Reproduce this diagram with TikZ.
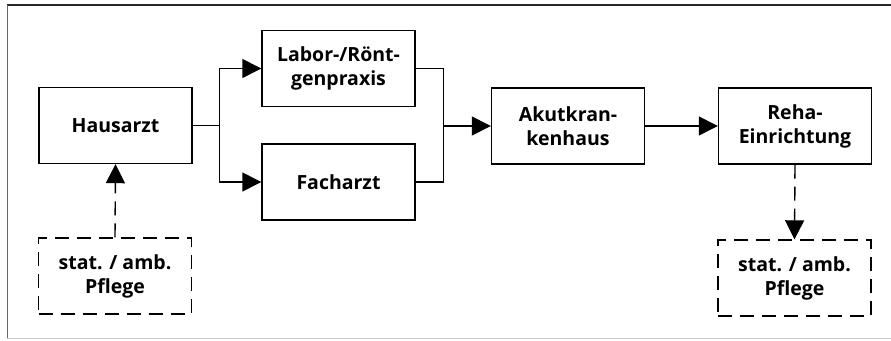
\documentclass[tikz,border=0pt]{standalone}
\usepackage{fontspec}
\setmainfont{Open Sans}
\usetikzlibrary{arrows.meta}
\begin{document}
\begin{tikzpicture}[x=1pt,y=-1pt,
  box/.style={draw=black,line width=1.4pt,minimum width=153pt,minimum height=76pt,
    align=center,inner sep=0pt,font=\fontsize{19.5}{24}\selectfont\bfseries},
  dbox/.style={box,dash pattern=on 14pt off 8pt},
  conn/.style={line width=1.4pt,-{Triangle[length=19pt,width=19pt]}},
  dconn/.style={conn,dash pattern=on 14pt off 8pt}]
\useasboundingbox (0,0) rectangle (891,340);
\draw[line width=1.2pt,black!85] (7,5) -- (891,5);
\draw[line width=1pt,black!60] (7,5) -- (7,338);
\draw[line width=1pt,black!20] (7,338) -- (891,338);

\node[box] (haus) at (115.5,125.5) {Hausarzt};
\node[box] (labor) at (338.5,68.5) {Labor-/Rönt-\\genpraxis};
\node[box] (fach) at (338.5,182) {Facharzt};
\node[box] (akut) at (568,126) {Akutkran-\\kenhaus};
\node[box] (reha) at (795,126) {Reha-\\Einrichtung};
\node[dbox] (pflA) at (115,276) {stat. / amb.\\Pflege};
\node[dbox] (pflB) at (794.5,278) {stat. / amb.\\Pflege};

\coordinate (split) at (219.5,125.5);
\coordinate (merge) at (443.5,126);

\draw[line width=1.4pt] (haus.east) -- (split);
\draw[conn] (split) |- (labor.west);
\draw[conn] (split) |- (fach.west);
\draw[line width=1.4pt] (labor.east) -| (merge);
\draw[line width=1.4pt] (fach.east) -| (merge);
\draw[conn] (merge) -- (akut.west);
\draw[conn] (akut) -- (reha);
\draw[dconn] (pflA.north) -- (haus.south);
\draw[dconn] (reha.south) -- (pflB.north);
\end{tikzpicture}
\end{document}
